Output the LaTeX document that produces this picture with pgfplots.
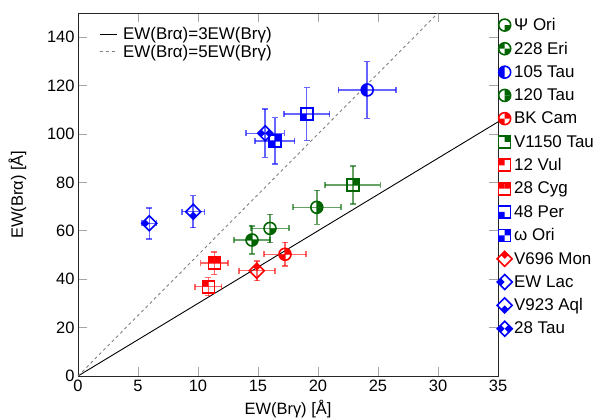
\documentclass[border=0pt]{standalone}
\usepackage{pgfplots}
\pgfplotsset{compat=1.18}
\usepackage{fontspec}
\setmainfont{Liberation Sans}
\definecolor{dg}{RGB}{0,100,0}

% quadrant fills
\newcommand\qpoly[3]{%
  \pgfmathsetmacro\qa{#3-45}\pgfmathsetmacro\qb{#3+45}%
  \pgfpathmoveto{\pgfpointorigin}%
  \pgfpathlineto{\pgfpointpolar{\qa}{#1}}%
  \pgfpathlineto{\pgfpointpolar{#3}{#2}}%
  \pgfpathlineto{\pgfpointpolar{\qb}{#1}}%
  \pgfpathclose\pgfusepathqfill}
\newcommand\qcirc[2]{%
  \pgfmathsetmacro\qa{#2-45}\pgfmathsetmacro\qb{#2+45}%
  \pgfpathmoveto{\pgfpointorigin}%
  \pgfpathlineto{\pgfpointpolar{\qa}{#1}}%
  \pgfpatharc{\qa}{\qb}{#1}%
  \pgfpathclose\pgfusepathqfill}
\newcommand\defcirc[2]{\pgfdeclareplotmark{#1}{%
  \foreach \p in {#2}{\qcirc{6bp}{\p}}%
  \pgfpathcircle{\pgfpointorigin}{6bp}\pgfusepathqstroke}}
\newcommand\defsq[2]{\pgfdeclareplotmark{#1}{%
  \foreach \p in {#2}{\qpoly{6bp}{8.485bp}{\p}}%
  \pgfpathrectanglecorners{\pgfqpoint{-6bp}{-6bp}}{\pgfqpoint{6bp}{6bp}}\pgfusepathqstroke}}
\newcommand\defdiam[2]{\pgfdeclareplotmark{#1}{%
  \foreach \p in {#2}{\qpoly{5.303bp}{7.5bp}{\p}}%
  \pgfpathmoveto{\pgfqpoint{7.5bp}{0bp}}\pgfpathlineto{\pgfqpoint{0bp}{7.5bp}}%
  \pgfpathlineto{\pgfqpoint{-7.5bp}{0bp}}\pgfpathlineto{\pgfqpoint{0bp}{-7.5bp}}%
  \pgfpathclose\pgfusepathqstroke}}

\defcirc{mPsi}{315}
\defcirc{mEri}{135,315}
\defcirc{mTauA}{135,225}
\defcirc{mTauB}{45,315}
\defcirc{mBK}{45,225}
\defsq{mV1150}{45}
\defsq{mVul}{135}
\defsq{mCyg}{45,135}
\defsq{mPer}{225}
\defsq{mOmega}{45,225}
\defdiam{mV696}{90}
\defdiam{mEW}{180}
\defdiam{mV923}{270}
\defdiam{mTauC}{0,180}

\pgfplotsset{star/.style={only marks, mark options={solid, line width=1.6bp},
  error bars/x dir=both, error bars/y dir=both,
  error bars/x explicit, error bars/y explicit,
  error bars/error bar style={line width=1.5bp, opacity=0.6},
  error bars/error mark options={rotate=90, line width=1.5bp, mark size=3bp, opacity=0.6}}}

\begin{document}
\begin{tikzpicture}[font=\fontsize{16.5}{19}\selectfont]
\begin{axis}[name=ax, scale only axis, width=420bp, height=363bp,
  xmin=0, xmax=35, ymin=0, ymax=150,
  xtick={0,5,...,35}, ytick={0,20,...,140},
  /pgf/number format/assume math mode=true,
  tick label style={font=\fontsize{16.5}{19}\selectfont},
  label style={font=\fontsize{16.5}{19}\selectfont},
  xlabel={EW(Brγ) [Å]}, ylabel={EW(Brα) [Å]},
  tick align=inside, major tick length=9bp,
  tick style={gray!70, line width=0.8bp},
  axis line style={line width=0.8bp, black!85},
  xticklabel style={yshift=-1bp},
  xlabel style={yshift=-1bp}, ylabel style={yshift=14bp},
  legend cell align=left,
  legend style={at={(0,1)}, anchor=north west, xshift=18bp, yshift=-10bp,
    draw=none, fill=none, row sep=0bp, column sep=4bp,
    font=\fontsize{17}{19}\selectfont,
    nodes={inner sep=2bp}, legend image post style={xshift=-1bp}},
]
\addplot[black, line width=0.9bp] coordinates {(0,0) (35,105)};
\addlegendentry{EW(Brα)=3EW(Brγ)}
\addplot[gray, line width=0.9bp, dash pattern=on 3bp off 3bp] coordinates {(0,0) (30,150)};
\addlegendentry{EW(Brα)=5EW(Brγ)}
\end{axis}
\begin{axis}[at={(ax.south west)}, anchor=south west, scale only axis,
  width=420bp, height=363bp, xmin=0, xmax=35, ymin=0, ymax=150, hide axis,
  legend cell align=left,
  legend style={at={(1,1)}, anchor=north west, xshift=-4bp, yshift=-1bp,
    draw=none, fill=none, row sep=5.9bp, font=\fontsize{17}{19}\selectfont,
    nodes={inner sep=2bp}},
]
\addplot[star, dg, mark=mPsi] coordinates {(16.0,61.0) +- (1.6,5.8)};
\addlegendentry{Ψ Ori}
\addplot[star, dg, mark=mEri] coordinates {(14.5,56.2) +- (1.5,5.7)};
\addlegendentry{228 Eri}
\addplot[star, blue, mark=mTauA] coordinates {(24.1,118.2) +- (2.4,11.7)};
\addlegendentry{105 Tau}
\addplot[star, dg, mark=mTauB] coordinates {(19.9,69.7) +- (2.0,7.0)};
\addlegendentry{120 Tau}
\addplot[star, red, mark=mBK] coordinates {(17.25,50.3) +- (1.75,4.9)};
\addlegendentry{BK Cam}
\addplot[star, dg, mark=mV1150] coordinates {(22.9,78.9) +- (2.3,7.9)};
\addlegendentry{V1150 Tau}
\addplot[star, red, mark=mVul] coordinates {(10.86,36.9) +- (1.1,3.7)};
\addlegendentry{12 Vul}
\addplot[star, red, mark=mCyg] coordinates {(11.36,46.6) +- (1.15,4.7)};
\addlegendentry{28 Cyg}
\addplot[star, blue, mark=mPer] coordinates {(19.06,108.3) +- (1.9,10.9)};
\addlegendentry{48 Per}
\addplot[star, blue, mark=mOmega] coordinates {(16.4,97.2) +- (1.65,9.6)};
\addlegendentry{ω Ori}
\addplot[star, red, mark=mV696] coordinates {(14.9,43.5) +- (1.5,4.1)};
\addlegendentry{V696 Mon}
\addplot[star, blue, mark=mEW] coordinates {(5.94,63.1) +- (0.6,6.4)};
\addlegendentry{EW Lac}
\addplot[star, blue, mark=mV923] coordinates {(9.6,67.9) +- (0.95,6.6)};
\addlegendentry{V923 Aql}
\addplot[star, blue, mark=mTauC] coordinates {(15.6,100.3) +- (1.6,10.0)};
\addlegendentry{28 Tau}
\end{axis}
\pgfresetboundingbox
\path[use as bounding box] ([xshift=-78bp,yshift=-43bp]ax.south west) rectangle ([xshift=100bp,yshift=13bp]ax.north east);
\end{tikzpicture}
\end{document}
